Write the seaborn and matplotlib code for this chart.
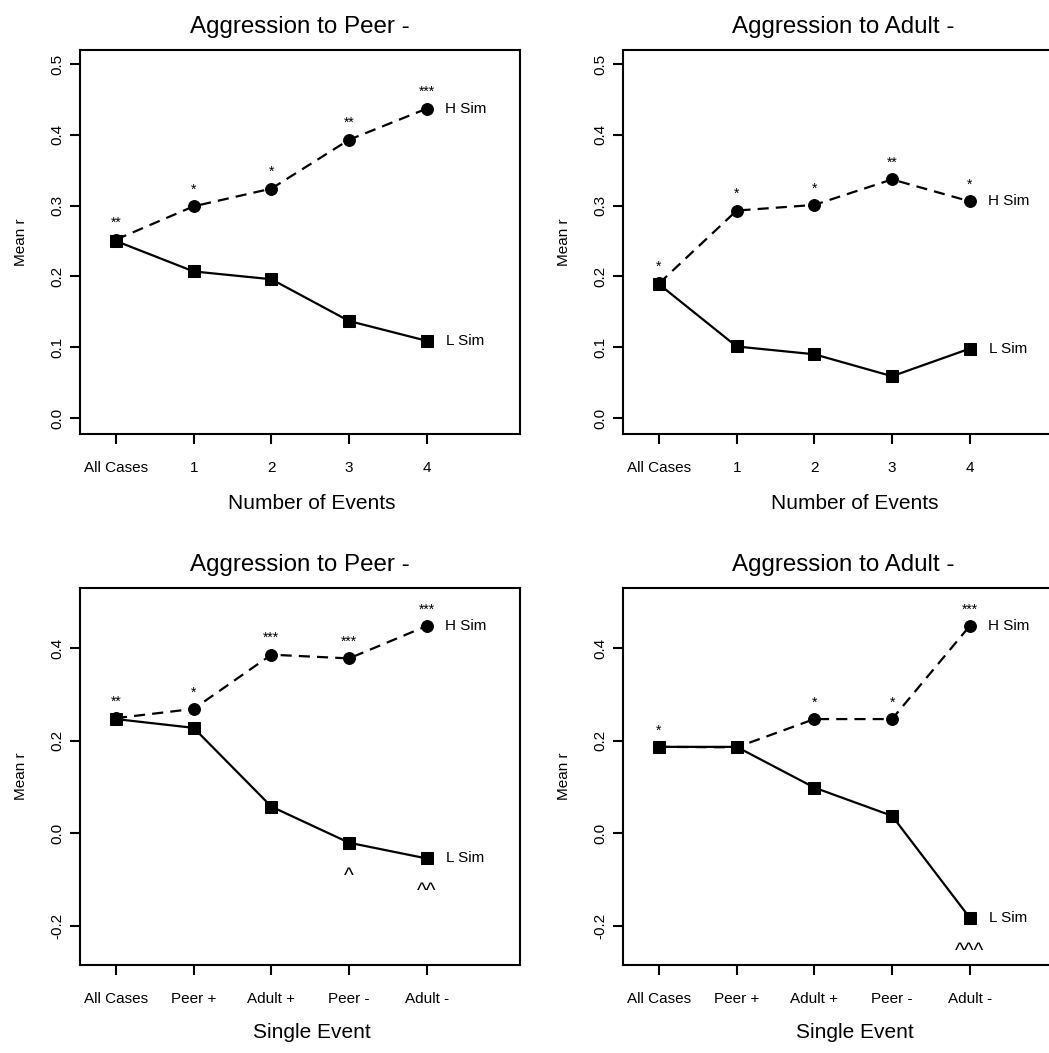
import numpy as np
import pandas as pd
import matplotlib
matplotlib.use("Agg")
import matplotlib.pyplot as plt
import seaborn as sns

# ---------------- data ----------------
events_labels = ["All Cases", "1", "2", "3", "4"]
single_labels = ["All Cases", "Peer +", "Adult +", "Peer -", "Adult -"]

peer_events_h = [0.252, 0.299, 0.324, 0.393, 0.437]
peer_events_l = [0.250, 0.207, 0.196, 0.137, 0.109]
adult_events_h = [0.190, 0.293, 0.301, 0.337, 0.306]
adult_events_l = [0.189, 0.101, 0.090, 0.059, 0.098]
peer_single_h = [0.249, 0.269, 0.386, 0.378, 0.448]
peer_single_l = [0.247, 0.228, 0.058, -0.020, -0.054]
adult_single_h = [0.187, 0.186, 0.247, 0.247, 0.448]
adult_single_l = [0.187, 0.187, 0.099, 0.038, -0.182]

peer_events_stars = ["**", "*", "*", "**", "***"]
adult_events_stars = ["*", "*", "*", "**", "*"]
peer_single_stars = ["**", "*", "***", "***", "***"]
adult_single_stars = ["*", "", "*", "*", "***"]
peer_single_carets = ["", "", "", "^", "^^"]
adult_single_carets = ["", "", "", "", "^^^"]

top_yticks = [0.0, 0.1, 0.2, 0.3, 0.4, 0.5]
bottom_yticks = [-0.2, 0.0, 0.2, 0.4]

titles = ["Aggression to Peer -", "Aggression to Adult -",
          "Aggression to Peer -", "Aggression to Adult -"]
xlabels = ["Number of Events", "Number of Events", "Single Event", "Single Event"]

# ---------------- style ----------------
sns.set_theme(style="white")
plt.rcParams["font.family"] = ["Liberation Sans", "DejaVu Sans"]

W, H = 1049, 1053
fig = plt.figure(figsize=(W / 100, H / 100), dpi=100)

def rect(left_px, top_px, right_px, bottom_px):
    return [left_px / W, 1 - bottom_px / H, (right_px - left_px) / W, (bottom_px - top_px) / H]

panels = [
    dict(rect=rect(80, 50, 520, 434), h=peer_events_h, l=peer_events_l, xt=events_labels,
         stars=peer_events_stars, carets=None, yt=top_yticks, ylim=(-0.0226, 0.5198)),
    dict(rect=rect(623, 50, 1063, 434), h=adult_events_h, l=adult_events_l, xt=events_labels,
         stars=adult_events_stars, carets=None, yt=top_yticks, ylim=(-0.0226, 0.5198)),
    dict(rect=rect(80, 588, 520, 965), h=peer_single_h, l=peer_single_l, xt=single_labels,
         stars=peer_single_stars, carets=peer_single_carets, yt=bottom_yticks, ylim=(-0.284, 0.53)),
    dict(rect=rect(623, 588, 1063, 965), h=adult_single_h, l=adult_single_l, xt=single_labels,
         stars=adult_single_stars, carets=adult_single_carets, yt=bottom_yticks, ylim=(-0.284, 0.53)),
]

for k, p in enumerate(panels):
    ax = fig.add_axes(p["rect"])
    ax.set_facecolor("white")
    n = len(p["xt"])
    df = pd.DataFrame({"pos": np.arange(n), "H": p["h"], "L": p["l"]})
    sns.lineplot(data=df, x="pos", y="H", ax=ax, color="black", marker="o",
                 markersize=8.5, markeredgecolor="black", linewidth=1.6,
                 linestyle=(0, (5, 3.2)), sort=False)
    sns.lineplot(data=df, x="pos", y="L", ax=ax, color="black", marker="s",
                 markersize=8, markeredgecolor="black", linewidth=1.6,
                 linestyle="-", sort=False)

    for i, s in enumerate(p["stars"]):
        if s:
            ax.annotate(s, (i, p["h"][i]), xytext=(0, 9), textcoords="offset points",
                        ha="center", va="baseline", fontsize=10, color="black")
    if p["carets"]:
        for i, c in enumerate(p["carets"]):
            if c:
                ax.annotate(c, (i, p["l"][i]), xytext=(0, -28), textcoords="offset points",
                            ha="center", va="baseline", fontsize=15, color="black")
    ax.annotate("H Sim", (n - 1, p["h"][-1]), xytext=(13, 0), textcoords="offset points",
                ha="left", va="center", fontsize=11, color="black")
    ax.annotate("L Sim", (n - 1, p["l"][-1]), xytext=(14, 0), textcoords="offset points",
                ha="left", va="center", fontsize=11, color="black")

    ax.set_xlim(-0.463, 5.2)
    ax.set_ylim(*p["ylim"])
    ax.set_xticks(range(n))
    ax.set_xticklabels(p["xt"])
    ax.set_yticks(p["yt"])
    ax.set_yticklabels([f"{v:.1f}" for v in p["yt"]], rotation=90, va="center")

    for sp in ax.spines.values():
        sp.set_visible(True)
        sp.set_color("black")
        sp.set_linewidth(1.5)
    ax.tick_params(axis="both", which="major", direction="out", length=7, width=1.5,
                   color="black", labelsize=11, labelcolor="black",
                   bottom=True, left=True, top=False, right=False)
    ax.tick_params(axis="x", pad=12.5)
    ax.tick_params(axis="y", pad=4)

    ax.set_title(titles[k], fontsize=17.4, pad=12.5, color="black")
    ax.set_xlabel(xlabels[k], fontsize=15, color="black")
    ax.xaxis.set_label_coords(0.527, -0.156 if k < 2 else -0.153)
    ax.set_ylabel("Mean r", fontsize=11, color="black")
    ax.yaxis.set_label_coords(-0.118, 0.5)

fig.savefig("out.png", dpi=100)
